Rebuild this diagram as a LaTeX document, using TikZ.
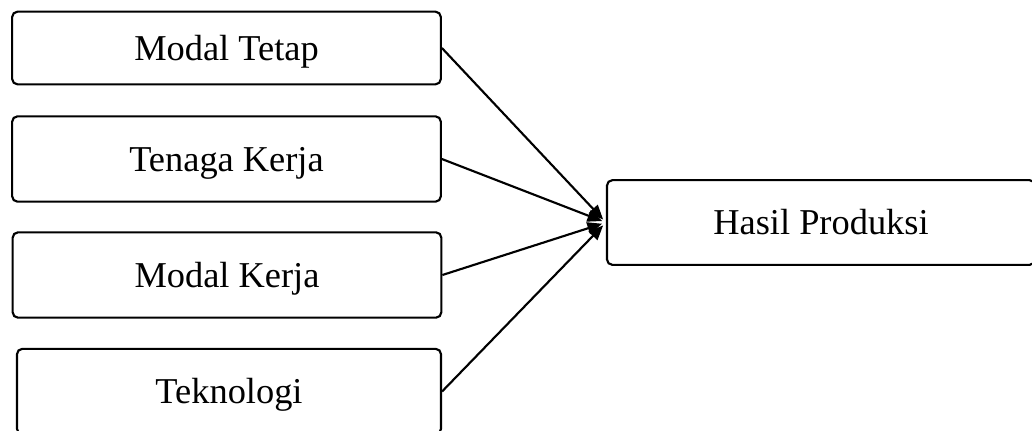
\documentclass[tikz,border=0pt]{standalone}
\usepackage{fontspec}
\setmainfont{Liberation Serif}
\usetikzlibrary{arrows.meta}
\begin{document}
\begin{tikzpicture}[x=0.75pt,y=-0.75pt,
  box/.style={draw=black,line width=1.6pt,rounded corners=4pt,inner sep=0pt,
    text height=18pt,text depth=0pt,
    font=\fontsize{27.3}{32}\selectfont},
  conn/.style={draw=black,line width=1.6pt,-{Triangle[length=11pt,width=9pt]},shorten >=3pt}]
\useasboundingbox (0,0) rectangle (1032,430);
\node[box,minimum width=321.5pt,minimum height=54.5pt] (mt) at (226.5,48) {Modal Tetap};
\node[box,minimum width=321.5pt,minimum height=64pt] (tk) at (226.5,159) {Tenaga Kerja};
\node[box,minimum width=321.5pt,minimum height=64pt] (mk) at (227,275) {Modal Kerja};
\node[box,minimum width=318pt,minimum height=64pt] (tg) at (229,391.5) {Teknologi};
\node[box,minimum width=321pt,minimum height=63.5pt] (hp) at (821,222.5) {Hasil Produksi};
\draw[conn] (mt.east) -- (hp.west);
\draw[conn] (tk.east) -- (hp.west);
\draw[conn] (mk.east) -- (hp.west);
\draw[conn] (tg.east) -- (hp.west);
\end{tikzpicture}
\end{document}
